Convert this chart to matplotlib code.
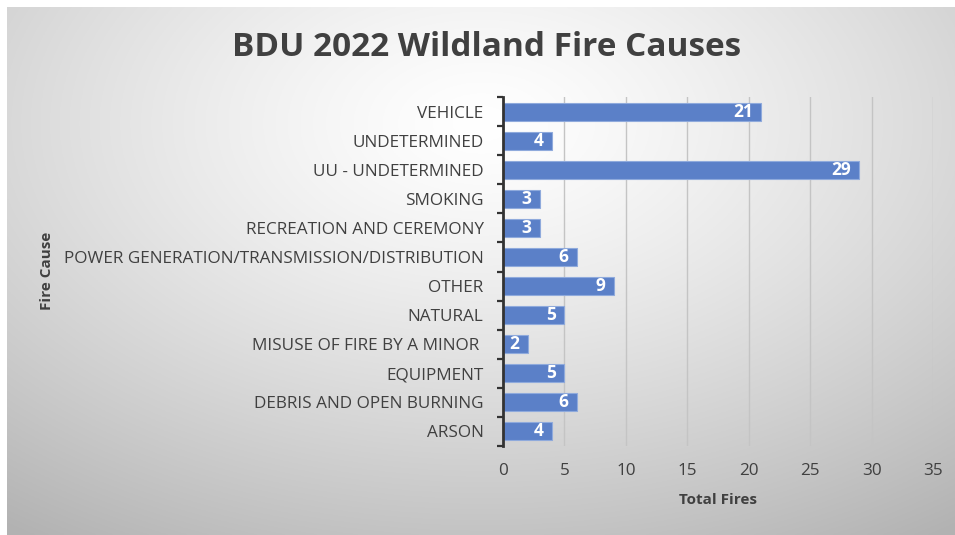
import numpy as np
import matplotlib
matplotlib.use("Agg")
import matplotlib.pyplot as plt

categories = ["ARSON", "DEBRIS AND OPEN BURNING", "EQUIPMENT", "MISUSE OF FIRE BY A MINOR ",
              "NATURAL", "OTHER", "POWER GENERATION/TRANSMISSION/DISTRIBUTION",
              "RECREATION AND CEREMONY", "SMOKING", "UU - UNDETERMINED", "UNDETERMINED", "VEHICLE"]
values = [4, 6, 5, 2, 5, 9, 6, 3, 3, 29, 4, 21]
x_ticks = [0, 5, 10, 15, 20, 25, 30, 35]

title = "BDU 2022 Wildland Fire Causes"
xlabel = "Total Fires"
ylabel = "Fire Cause"

W, H = 955, 535
fig = plt.figure(figsize=(W / 100, H / 100), dpi=100)
fig.patch.set_facecolor("white")

# background frame with radial gradient
x0, y0 = 7 / W, 0.0
bg = fig.add_axes([x0, y0, 1 - x0, 1 - 7 / H])
bg.set_axis_off()
yy, xx = np.mgrid[0:1:300j, 0:1:500j]
cx, cy = 0.5, 0.22
r = np.sqrt(((xx - cx) * 1.0) ** 2 + ((yy - cy) * 0.9) ** 2)
v = 1.0 - 0.30 * np.clip(r / 0.85, 0, 1) ** 1.3
img = np.dstack([v, v, v])
bg.imshow(img, aspect="auto", extent=[0, 1, 1, 0], origin="upper")
bg.set_xlim(0, 1)
bg.set_ylim(1, 0)

txt = "#404040"
ax = fig.add_axes([503 / W, 1 - 446 / H, (933 - 503) / W, (446 - 97) / H])
ax.patch.set_alpha(0)
ypos = np.arange(len(categories))
bars = ax.barh(ypos, values, height=0.62, color="#5B80C8", edgecolor="#8FAADC", linewidth=0.8, zorder=3)
ax.set_xlim(0, 35)
ax.set_ylim(-0.5, len(categories) - 0.5)
ax.set_xticks(x_ticks)
ax.set_yticks(ypos)
ax.set_yticklabels(categories)
ax.set_yticks(np.arange(-0.5, len(categories), 1.0), minor=True)
ax.tick_params(axis="y", which="major", length=0, pad=14, labelsize=12.3, labelcolor=txt)
ax.tick_params(axis="y", which="minor", length=4, width=1.6, color="#333333")
ax.tick_params(axis="x", length=0, pad=12, labelsize=12.3, labelcolor=txt)
for lab in ax.get_xticklabels() + ax.get_yticklabels():
    lab.set_fontfamily("Open Sans")
ax.grid(axis="x", color="#C4C4C4", linewidth=1, zorder=0)
for s in ["top", "right", "bottom"]:
    ax.spines[s].set_visible(False)
ax.spines["left"].set_color("#333333")
ax.spines["left"].set_linewidth(2)
ax.spines["left"].set_zorder(4)

for b, v_ in zip(bars, values):
    ax.annotate(str(v_), xy=(b.get_width(), b.get_y() + b.get_height() / 2),
                xytext=(-6, 0), textcoords="offset points", ha="right", va="center",
                color="white", fontsize=12.5, fontweight="bold", family="Open Sans", zorder=5)

fig.text(487 / W, 1 - 48 / H, title, ha="center", va="center", fontsize=24,
         fontweight="bold", color=txt, family="Open Sans")
fig.text(718 / W, 1 - 500 / H, xlabel, ha="center", va="center", fontsize=11,
         fontweight="bold", color=txt, family="Open Sans")
fig.text(47 / W, 1 - 271 / H, ylabel, ha="center", va="center", rotation=90, fontsize=11,
         fontweight="bold", color=txt, family="Open Sans")

fig.savefig("out.png", dpi=100)
